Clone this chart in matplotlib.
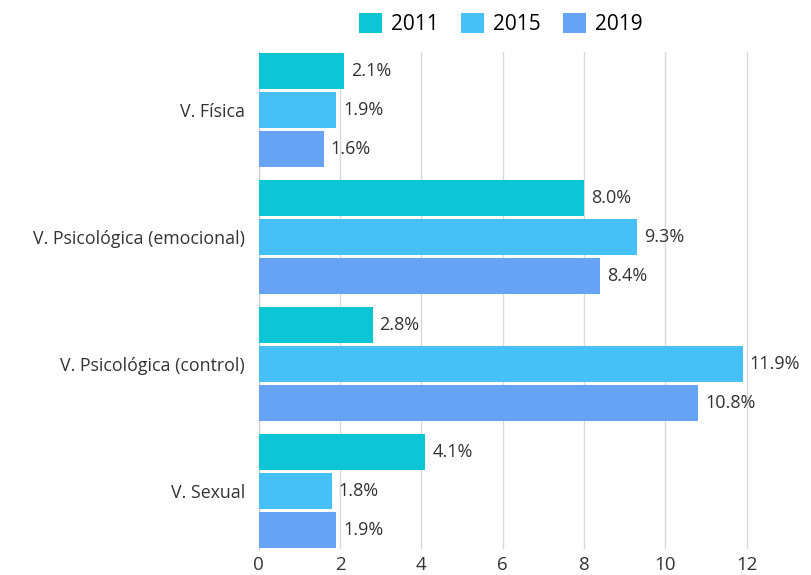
import matplotlib.pyplot as plt
import numpy as np

plt.rcParams['font.family'] = ['Open Sans', 'DejaVu Sans']

categories = ["V. Física", "V. Psicológica (emocional)", "V. Psicológica (control)", "V. Sexual"]
years = ["2011", "2015", "2019"]
v2011 = [2.1, 8.0, 2.8, 4.1]
v2015 = [1.9, 9.3, 11.9, 1.8]
v2019 = [1.6, 8.4, 10.8, 1.9]
colors = ["#0cc6d6", "#47c0f7", "#66a3f5"]

fig = plt.figure(figsize=(8.11, 5.75), dpi=100)
ax = fig.add_axes([0.319, 0.045, 0.632, 0.865])

y = np.arange(len(categories))
pitch = 0.308
h = 0.284
for k, (vals, lab) in enumerate(zip([v2011, v2015, v2019], years)):
    pos = y + (k - 1) * pitch
    bars = ax.barh(pos, vals, height=h, color=colors[k], label=lab, zorder=3)
    for b, v in zip(bars, vals):
        ax.annotate(f"{v:.1f}%", (v, b.get_y() + h / 2), xytext=(5, 0),
                    textcoords="offset points", va="center", ha="left",
                    fontsize=13, color="#333333")

ax.set_yticks(y)
ax.set_yticklabels(categories, fontsize=12.8, color="#333333")
ax.set_ylim(3.46, -0.46)
ax.set_xlim(0, 12.6)
ax.set_xticks([0, 2, 4, 6, 8, 10, 12])
ax.tick_params(axis="x", labelsize=13.5, colors="#333333", length=0, pad=5)
ax.tick_params(axis="y", length=0, pad=10)
ax.grid(axis="x", color="#d9d9d9", linewidth=1, zorder=0)
for s in ["top", "right", "bottom"]:
    ax.spines[s].set_visible(False)
ax.spines["left"].set_color("#cccccc")

fig.legend(loc="center", bbox_to_anchor=(501 / 811, 1 - 24 / 575), ncol=3,
           frameon=False, fontsize=15, handlelength=1.1, handleheight=1.1,
           columnspacing=1.05, handletextpad=0.45)

fig.savefig("out.png", dpi=100)
